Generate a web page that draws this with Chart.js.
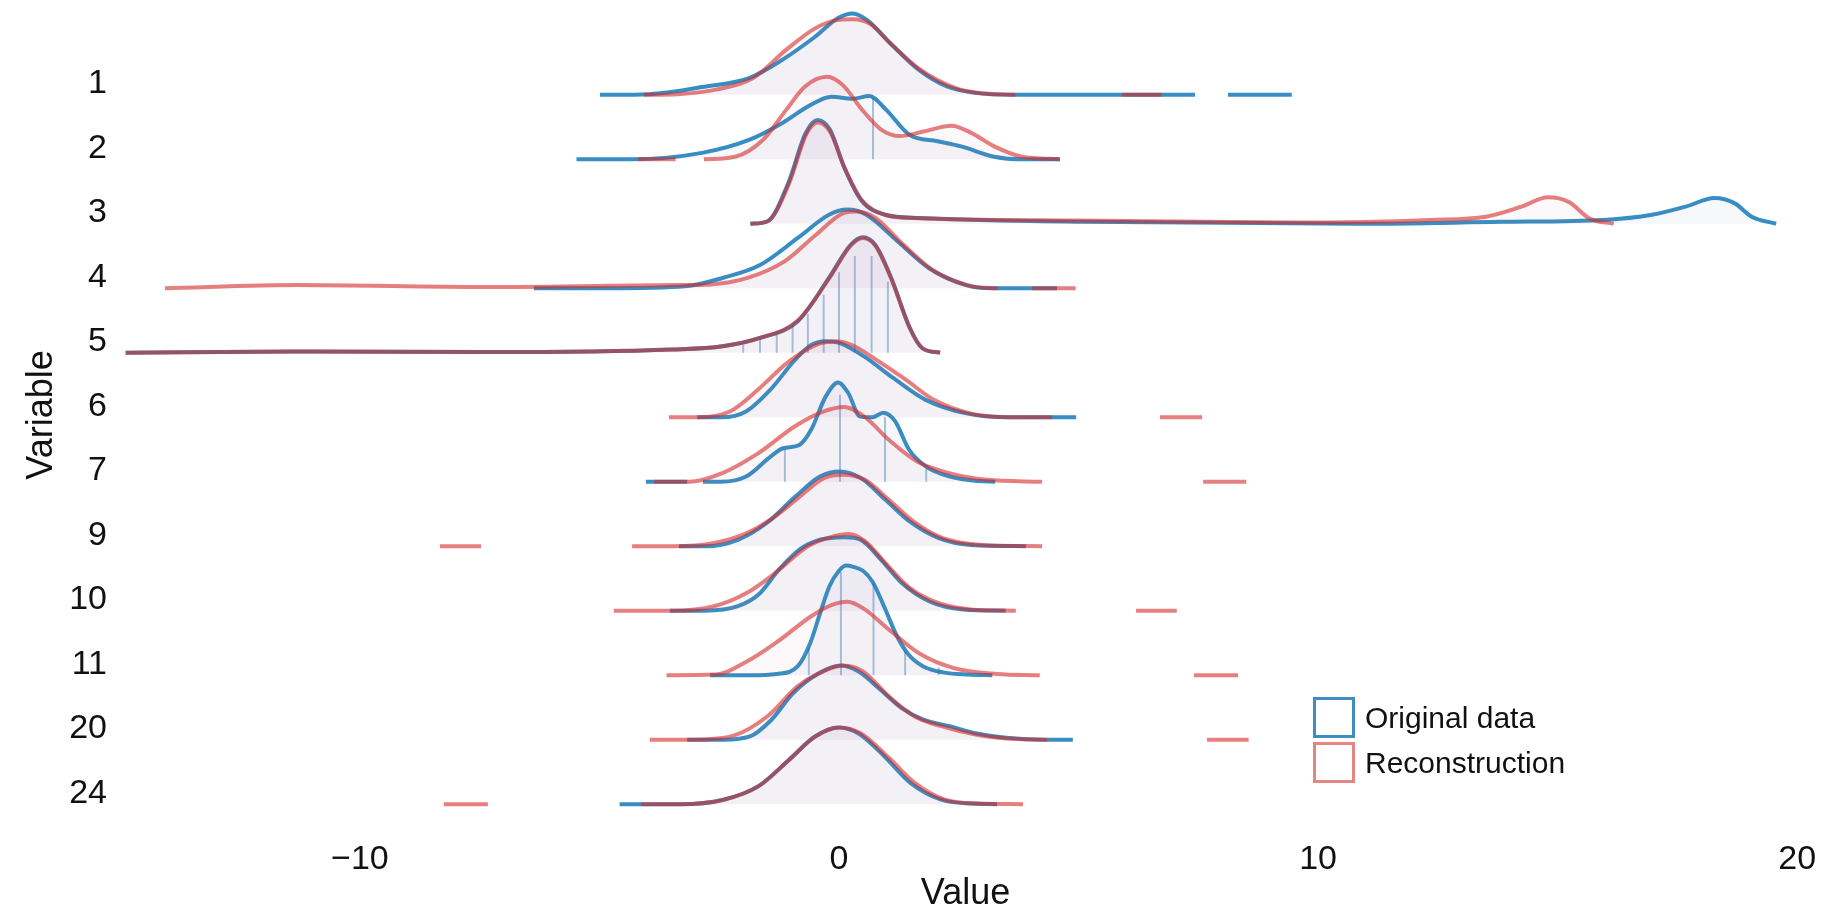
<!DOCTYPE html>
<html>
<head>
<meta charset="utf-8">
<script src="https://cdn.jsdelivr.net/npm/chart.js@4.4.1/dist/chart.umd.min.js"></script>
<style>
  html, body { margin: 0; background: #fff; }
  #wrap { position: relative; width: 1823px; height: 913px; }
  .legend { position: absolute; left: 1313px; top: 695px; font: 30px "Liberation Sans", Arial, sans-serif; color: #111; }
  .item { display: flex; align-items: center; height: 45px; }
  .key { width: 36px; height: 35px; border: 3px solid; margin-right: 10px; }
</style>
</head>
<body>
<div id="wrap">
  <canvas id="chart" width="1823" height="913"></canvas>
  <div class="legend">
    <div class="item"><span class="key" style="border-color:#3f8dc3"></span>Original data</div>
    <div class="item"><span class="key" style="border-color:#e68484"></span>Reconstruction</div>
  </div>
</div>
<script>
(() => {
  'use strict';

  // ---------- data (value, density height in row units) ----------

  const rowNames = ['1', '2', '3', '4', '5', '6', '7', '9', '10', '11', '20', '24'];
  const xTicks = [-10, 0, 10, 20];

  // each curve is a list of segments; gaps are where there is no data
  const orig1 = [
    [[-4.99,0],[-3.95,0.01],[-2.86,0.12],[-1.88,0.26],[-1.19,0.54],[-0.5,0.9],[-0.02,1.19],[0.29,1.26],[0.58,1.16],[1.07,0.8],[1.66,0.39],[2.25,0.13],[2.84,0.03],[3.63,0],[7.43,0]],
    [[8.12,0],[9.45,0]],
  ];
  const recon1 = [
    [[-4.07,0],[-3.36,0.01],[-2.57,0.08],[-1.79,0.26],[-1.1,0.7],[-0.5,1.03],[-0.1,1.15],[0.29,1.17],[0.67,1.09],[1.07,0.8],[1.66,0.41],[2.45,0.1],[3.05,0.02],[3.68,0]],
    [[5.91,0],[6.74,0]],
  ];
  const orig2 = [
    [[-5.48,0],[-4.34,0],[-2.86,0.1],[-1.88,0.3],[-1.19,0.56],[-0.6,0.84],[-0.16,0.97],[0.29,0.94],[0.63,0.98],[0.98,0.77],[1.47,0.38],[2.06,0.28],[2.55,0.2],[3.24,0.04],[3.82,0],[4.61,0]],
  ];
  const recon2 = [
    [[-4.2,0],[-3.41,0]],
    [[-2.82,0],[-2.17,0.04],[-1.59,0.3],[-1.1,0.77],[-0.71,1.13],[-0.25,1.28],[0.08,1.15],[0.48,0.77],[0.88,0.46],[1.27,0.36],[1.76,0.43],[2.35,0.52],[2.76,0.41],[3.24,0.2],[3.82,0.04],[4.61,0]],
  ];
  const orig3 = [
    [[-1.85,0],[-1.49,0.04],[-1.06,0.63],[-0.7,1.4],[-0.45,1.61],[-0.19,1.46],[0.1,0.89],[0.46,0.37],[0.96,0.14],[1.69,0.09],[5.14,0.03],[10.9,0],[13.8,0.03],[15.96,0.06],[16.97,0.14],[17.69,0.27],[18.27,0.4],[18.69,0.32],[19.05,0.11],[19.56,0]],
  ];
  const recon3 = [
    [[-1.85,0],[-1.49,0.04],[-1.04,0.63],[-0.69,1.38],[-0.44,1.57],[-0.18,1.42],[0.12,0.86],[0.48,0.36],[0.96,0.14],[1.54,0.09],[5.0,0.05],[9.46,0.02],[12.34,0.06],[13.5,0.11],[14.22,0.26],[14.8,0.41],[15.23,0.34],[15.67,0.08],[16.17,0]],
  ];
  const orig4 = [
    [[-6.37,0],[-4.78,0],[-3.21,0.03],[-2.43,0.16],[-1.65,0.36],[-0.86,0.78],[-0.21,1.14],[0.18,1.22],[0.57,1.14],[1.22,0.73],[1.88,0.31],[2.65,0.05],[3.17,0],[4.55,0]],
  ];
  const recon4 = [
    [[-14.07,0],[-11.3,0.05],[-7.39,0.02],[-3.48,0.05],[-2.69,0.06],[-1.91,0.16],[-1.13,0.42],[-0.48,0.83],[0.11,1.17],[0.38,1.19],[0.76,1.09],[1.35,0.67],[2.0,0.26],[2.79,0.03],[3.31,0]],
    [[4.03,0],[4.94,0]],
  ];
  const orig5 = [
    [[-14.89,0],[-11.31,0.02],[-7.39,0.01],[-3.48,0.05],[-2.43,0.1],[-1.65,0.23],[-0.86,0.49],[-0.21,1.16],[0.24,1.67],[0.5,1.79],[0.76,1.67],[1.09,1.16],[1.48,0.38],[1.74,0.07],[2.11,0]],
  ];
  const recon5 = [
    [[-14.89,0],[-11.31,0.02],[-7.39,0.01],[-3.48,0.05],[-2.43,0.1],[-1.65,0.23],[-0.86,0.5],[-0.21,1.15],[0.24,1.66],[0.5,1.78],[0.76,1.66],[1.09,1.15],[1.48,0.38],[1.74,0.07],[2.11,0]],
  ];
  const orig6 = [
    [[-2.96,0],[-2.45,0],[-1.94,0.09],[-1.43,0.43],[-0.92,0.89],[-0.58,1.12],[-0.28,1.18],[0.02,1.15],[0.53,0.94],[1.13,0.61],[1.81,0.27],[2.66,0.06],[3.51,0],[4.95,0]],
  ];
  const recon6 = [
    [[-3.55,0],[-2.96,0],[-2.28,0.09],[-1.69,0.43],[-1.09,0.84],[-0.49,1.12],[-0.06,1.18],[0.27,1.12],[0.78,0.89],[1.38,0.59],[1.98,0.27],[2.74,0.06],[3.6,0],[4.45,0]],
    [[6.7,0],[7.58,0]],
  ];
  const orig7 = [
    [[-4.03,0],[-3.17,0]],
    [[-2.84,0],[-2.46,0],[-1.94,0.08],[-1.43,0.39],[-1.17,0.52],[-0.83,0.57],[-0.58,0.81],[-0.28,1.32],[-0.02,1.54],[0.19,1.38],[0.44,1.01],[0.7,1.0],[0.92,1.07],[1.17,0.94],[1.46,0.5],[1.81,0.24],[2.32,0.08],[2.92,0.01],[3.26,0]],
  ];
  const recon7 = [
    [[-3.86,0],[-3.13,0],[-2.45,0.13],[-1.69,0.44],[-0.92,0.86],[-0.32,1.09],[0.1,1.16],[0.53,1.01],[1.04,0.65],[1.64,0.31],[2.32,0.13],[3.09,0.03],[4.24,0]],
    [[7.6,0],[8.5,0]],
  ];
  const orig9 = [
    [[-3.34,0],[-2.8,0],[-2.11,0.1],[-1.51,0.36],[-0.91,0.77],[-0.4,1.08],[0.02,1.16],[0.45,1.06],[0.97,0.72],[1.48,0.38],[2.07,0.13],[2.75,0.02],[3.9,0]],
  ];
  const recon9 = [
    [[-8.33,0],[-7.47,0]],
    [[-4.32,0],[-3.47,0],[-2.61,0.05],[-1.94,0.2],[-1.34,0.46],[-0.82,0.77],[-0.31,1.06],[0.1,1.11],[0.54,1.03],[1.04,0.72],[1.56,0.38],[2.15,0.13],[3.0,0.02],[4.24,0]],
  ];
  const orig10 = [
    [[-3.53,0],[-2.8,0],[-2.11,0.07],[-1.68,0.25],[-1.25,0.64],[-0.82,0.95],[-0.4,1.1],[0.11,1.14],[0.45,1.1],[0.88,0.79],[1.31,0.43],[1.9,0.14],[2.59,0.02],[3.48,0]],
  ];
  const recon10 = [
    [[-4.7,0],[-3.47,0],[-2.61,0.07],[-1.94,0.27],[-1.34,0.58],[-0.65,1.0],[-0.14,1.15],[0.2,1.19],[0.54,1.08],[0.97,0.74],[1.48,0.35],[2.07,0.12],[2.75,0.02],[3.69,0]],
    [[6.2,0],[7.05,0]],
  ];
  const orig11 = [
    [[-2.69,0],[-1.86,0],[-1.3,0.02],[-0.86,0.14],[-0.6,0.5],[-0.4,0.95],[-0.2,1.38],[0.0,1.62],[0.15,1.7],[0.3,1.68],[0.5,1.62],[0.7,1.45],[0.95,1.05],[1.2,0.62],[1.45,0.32],[1.75,0.14],[2.2,0.04],[2.7,0.01],[3.2,0]],
  ];
  const recon11 = [
    [[-3.6,0],[-2.59,0.01],[-1.86,0.24],[-1.23,0.55],[-0.59,0.91],[-0.15,1.09],[0.18,1.14],[0.5,1.04],[1.04,0.71],[1.67,0.34],[2.4,0.11],[3.3,0.02],[4.19,0]],
    [[7.41,0],[8.33,0]],
  ];
  const orig20 = [
    [[-3.17,0],[-2.4,0],[-1.86,0.05],[-1.41,0.31],[-0.96,0.72],[-0.42,1.03],[0.04,1.15],[0.4,1.06],[0.86,0.78],[1.31,0.49],[1.76,0.31],[2.31,0.21],[2.85,0.1],[3.49,0.03],[4.3,0],[4.88,0]],
  ];
  const recon20 = [
    [[-3.95,0],[-3.13,0],[-2.22,0.06],[-1.5,0.36],[-0.86,0.83],[-0.42,1.03],[0.08,1.15],[0.5,1.06],[1.04,0.67],[1.58,0.36],[2.13,0.21],[2.85,0.08],[3.49,0.02],[4.34,0]],
    [[7.68,0],[8.55,0]],
  ];
  const orig24 = [
    [[-4.58,0],[-3.32,0],[-2.41,0.07],[-1.68,0.28],[-1.04,0.69],[-0.5,1.05],[0.0,1.19],[0.4,1.1],[0.95,0.74],[1.49,0.33],[2.13,0.07],[2.76,0.01],[3.3,0]],
  ];
  const recon24 = [
    [[-8.25,0],[-7.33,0]],
    [[-4.13,0],[-3.32,0],[-2.41,0.07],[-1.68,0.28],[-1.04,0.69],[-0.5,1.05],[0.0,1.19],[0.45,1.1],[1.04,0.72],[1.58,0.33],[2.21,0.07],[2.94,0.01],[3.84,0]],
  ];

  // stacked columns of original points visible as vertical strokes: [value, height]
  const rug2 = [[0.71, 0.95]];
  const rug5 = [[-2.0,0.12],[-1.65,0.2],[-1.3,0.3],[-0.97,0.42],[-0.65,0.6],[-0.32,0.9],[0.0,1.25],[0.33,1.5],[0.68,1.5],[1.02,1.1]];
  const rug7 = [[-1.13,0.5],[0.02,1.35],[0.96,1.0],[1.82,0.2]];
  const rug11 = [[-0.63,0.43],[0.04,1.6],[0.72,1.42],[1.38,0.37],[2.08,0.12]];

  const originalRows = [orig1, orig2, orig3, orig4, orig5, orig6, orig7, orig9, orig10, orig11, orig20, orig24];
  const reconRows = [recon1, recon2, recon3, recon4, recon5, recon6, recon7, recon9, recon10, recon11, recon20, recon24];
  const rugRows = [[], rug2, [], [], rug5, [], rug7, [], [], rug11, [], []];

  // ---------- styling ----------

  const FONT = '"Liberation Sans", Arial, Helvetica, sans-serif';
  const BLUE = 'rgba(0,110,178,0.78)';
  const RED = 'rgba(213,43,43,0.6)';
  const BLUE_FILL = 'rgba(70,120,190,0.05)';
  const RED_FILL = 'rgba(220,100,110,0.045)';
  const RUG = 'rgba(40,105,170,0.4)';
  const LABEL_LIFT = 0.17;
  const N = rowNames.length;

  const base = (i) => N - 1 - i;

  function curve(seg, i, color, fillColor, order) {
    return {
      data: seg.map(([v, h]) => ({ x: v, y: base(i) + h })),
      showLine: true,
      borderColor: color,
      borderWidth: 4,
      borderCapStyle: 'butt',
      pointRadius: 0,
      cubicInterpolationMode: 'monotone',
      fill: { value: base(i) },
      backgroundColor: fillColor,
      order,
    };
  }

  const datasets = [];
  reconRows.forEach((segs, i) => segs.forEach(seg => datasets.push(curve(seg, i, RED, RED_FILL, 0))));
  originalRows.forEach((segs, i) => segs.forEach(seg => datasets.push(curve(seg, i, BLUE, BLUE_FILL, 1))));
  rugRows.forEach((rugs, i) => rugs.forEach(([v, h]) => datasets.push({
    data: [{ x: v, y: base(i) }, { x: v, y: base(i) + h }],
    showLine: true,
    borderColor: RUG,
    borderWidth: 2,
    pointRadius: 0,
    fill: false,
    order: 2,
  })));

  Chart.defaults.font.family = FONT;

  new Chart(document.getElementById('chart'), {
    type: 'scatter',
    data: { datasets },
    options: {
      responsive: false,
      animation: false,
      devicePixelRatio: 1,
      layout: { padding: { left: 0, right: 10, top: 0, bottom: 0 } },
      plugins: { legend: { display: false }, tooltip: { enabled: false } },
      scales: {
        x: {
          type: 'linear',
          min: -15.05,
          max: 20.33,
          grid: { display: false },
          border: { display: false },
          afterBuildTicks: (s) => { s.ticks = xTicks.map(v => ({ value: v })); },
          afterFit: (s) => { s.height = 83; },
          ticks: {
            font: { size: 34 },
            color: '#111',
            padding: 1,
            autoSkip: false,
            maxRotation: 0,
            callback: (v) => (v < 0 ? '\u2212' + Math.abs(v) : String(v)),
          },
          title: {
            display: true,
            text: 'Value',
            color: '#111',
            font: { size: 36, lineHeight: 1 },
            padding: { top: 0, bottom: 1 },
          },
        },
        y: {
          type: 'linear',
          min: -0.4,
          max: 12.47,
          grid: { display: false },
          border: { display: false },
          afterBuildTicks: (s) => { s.ticks = rowNames.map((_, i) => ({ value: base(i) + LABEL_LIFT })); },
          afterFit: (s) => { s.width = 118; s.paddingTop = 0; s.paddingBottom = 0; },
          ticks: {
            font: { size: 34 },
            color: '#111',
            padding: 3,
            autoSkip: false,
            callback: (v) => rowNames[Math.round(N - 1 - (v - LABEL_LIFT))],
          },
          title: {
            display: true,
            text: 'Variable',
            color: '#111',
            font: { size: 36, lineHeight: 1 },
            padding: { top: 24, bottom: 0 },
          },
        },
      },
    },
  });
})();
</script>
</body>
</html>
